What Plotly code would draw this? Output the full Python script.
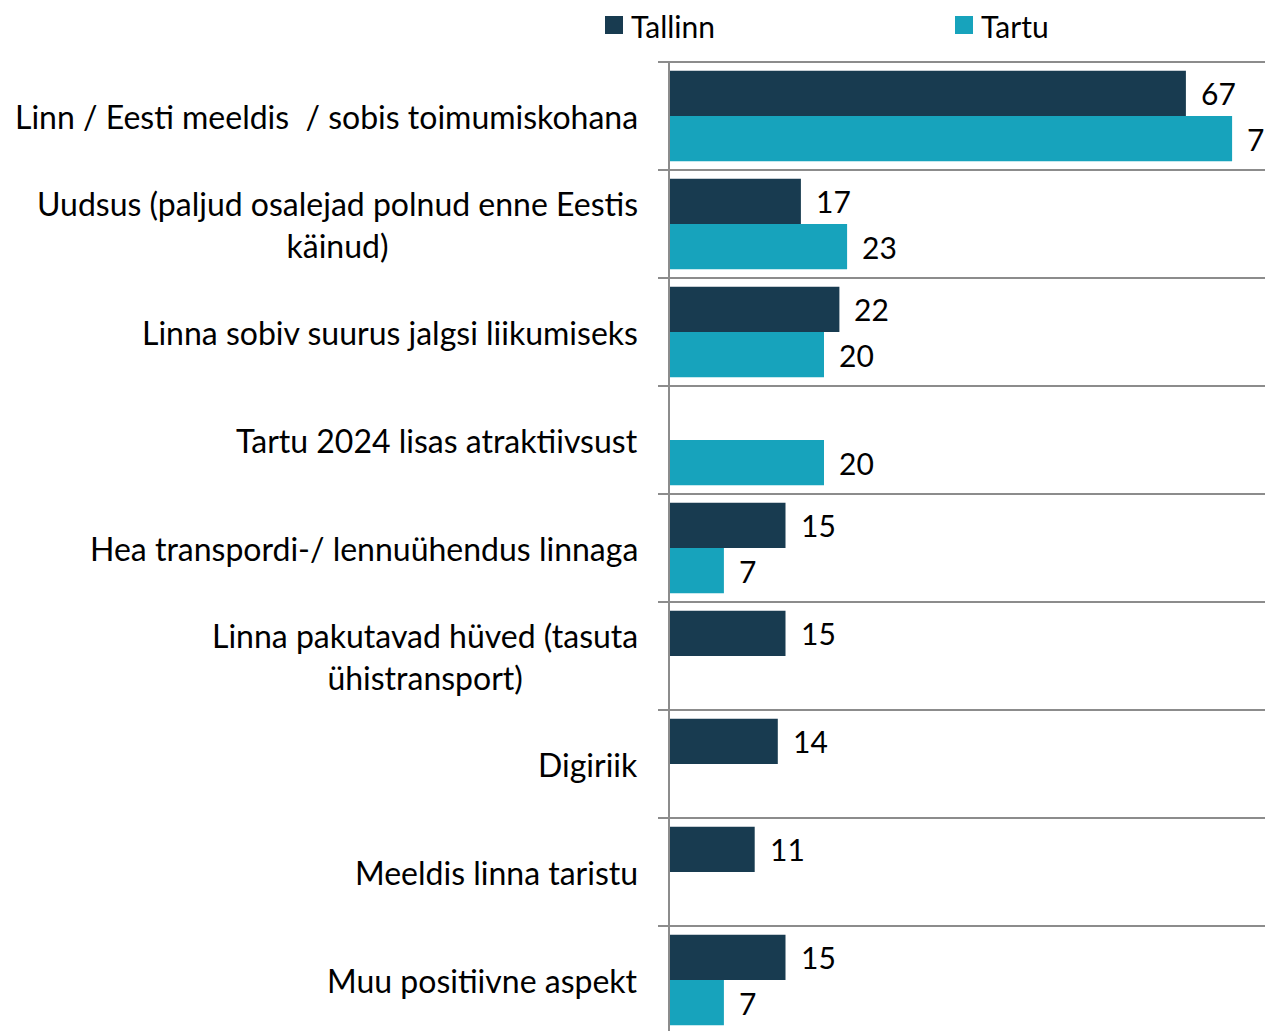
import plotly.graph_objects as go

categories = [
    "Linn / Eesti meeldis  / sobis toimumiskohana",
    "Uudsus (paljud osalejad polnud enne Eestis<br>käinud)",
    "Linna sobiv suurus jalgsi liikumiseks",
    "Tartu 2024 lisas atraktiivsust",
    "Hea transpordi-/ lennuühendus linnaga",
    "Linna pakutavad hüved (tasuta<br>ühistransport)",
    "Digiriik",
    "Meeldis linna taristu",
    "Muu positiivne aspekt",
]
series_names = ["Tallinn", "Tartu"]
tallinn = [67, 17, 22, None, 15, 15, 14, 11, 15]
tartu = [73, 23, 20, 20, 7, None, None, None, 7]

C_TALLINN = "#183b50"
C_TARTU = "#17a3bc"
GRID = "#8c8c8c"
FONT = "Lato"
FS_CAT = 32
FS_VAL = 30
FS_LEG = 30

# page has an 8px body margin, so figure coords = page coords - 8
OFF = 8
W, H = 1273 - OFF, 1031 - OFF
ML, MT = 670 - OFF, 62 - OFF
px_per_band = 108.0
plot_w = W - ML
plot_h = H - MT
y_bottom = -0.5 + plot_h / px_per_band
x_max = plot_w / 7.7
bargap = 0.16
offset_px = (1 - bargap) / 4 * px_per_band

colors = [C_TALLINN, C_TARTU]
fig = go.Figure()
for name, vals, col in zip(series_names, (tallinn, tartu), colors):
    fig.add_trace(go.Bar(name=name, y=categories, x=vals, orientation="h",
                         marker=dict(color=col, line=dict(width=0)),
                         showlegend=False))

annotations = []
for vals, shift in ((tallinn, offset_px), (tartu, -offset_px)):
    for cat, v in zip(categories, vals):
        if v is None:
            continue
        annotations.append(dict(x=v, y=cat, xref="x", yref="y", text=str(v),
                                showarrow=False, xanchor="left", yanchor="middle",
                                xshift=13, yshift=shift,
                                font=dict(family=FONT, size=FS_VAL, color="#000000")))
for cat in categories:
    annotations.append(dict(x=0, y=cat, xref="paper", yref="y", text=cat,
                            showarrow=False, xanchor="right", yanchor="middle",
                            align="center", xshift=-30,
                            font=dict(family=FONT, size=FS_CAT, color="#000000")))


def px_x(x):  # figure px -> paper x
    return (x - ML) / plot_w


def px_y(y):  # figure px (from top) -> paper y
    return 1 + (MT - y) / plot_h


# legend (swatch + label), positioned like the reference's top legend
shapes = []
legend_x = [597, 947]
for name, col, lx in zip(series_names, colors, legend_x):
    shapes.append(dict(type="rect", xref="paper", yref="paper",
                       x0=px_x(lx), x1=px_x(lx + 18), y0=px_y(8), y1=px_y(26),
                       fillcolor=col, line=dict(width=0)))
    annotations.append(dict(x=px_x(lx + 24), y=px_y(18), xref="paper", yref="paper",
                            text=name, showarrow=False, xanchor="left",
                            yanchor="middle",
                            font=dict(family=FONT, size=FS_LEG, color="#000000")))

shapes.append(dict(type="line", xref="paper", yref="paper", x0=px_x(ML - 10), x1=1,
                   y0=1, y1=1, line=dict(color=GRID, width=2)))

fig.update_layout(
    width=W, height=H,
    margin=dict(l=ML, r=0, t=MT, b=0, pad=0, autoexpand=False),
    paper_bgcolor="white", plot_bgcolor="white",
    barmode="group", bargap=bargap, bargroupgap=0,
    font=dict(family=FONT, size=FS_CAT, color="#000000"),
    showlegend=False,
    annotations=annotations,
    shapes=shapes,
    xaxis=dict(range=[0, x_max], visible=False, fixedrange=True),
    yaxis=dict(type="category", range=[y_bottom, -0.5], tickson="boundaries",
               showgrid=True, gridcolor=GRID, gridwidth=2,
               ticks="outside", ticklen=10, tickwidth=2, tickcolor=GRID,
               showticklabels=False, fixedrange=True,
               showline=True, linecolor=GRID, linewidth=2, zeroline=False),
)

fig.write_html("out.html")
